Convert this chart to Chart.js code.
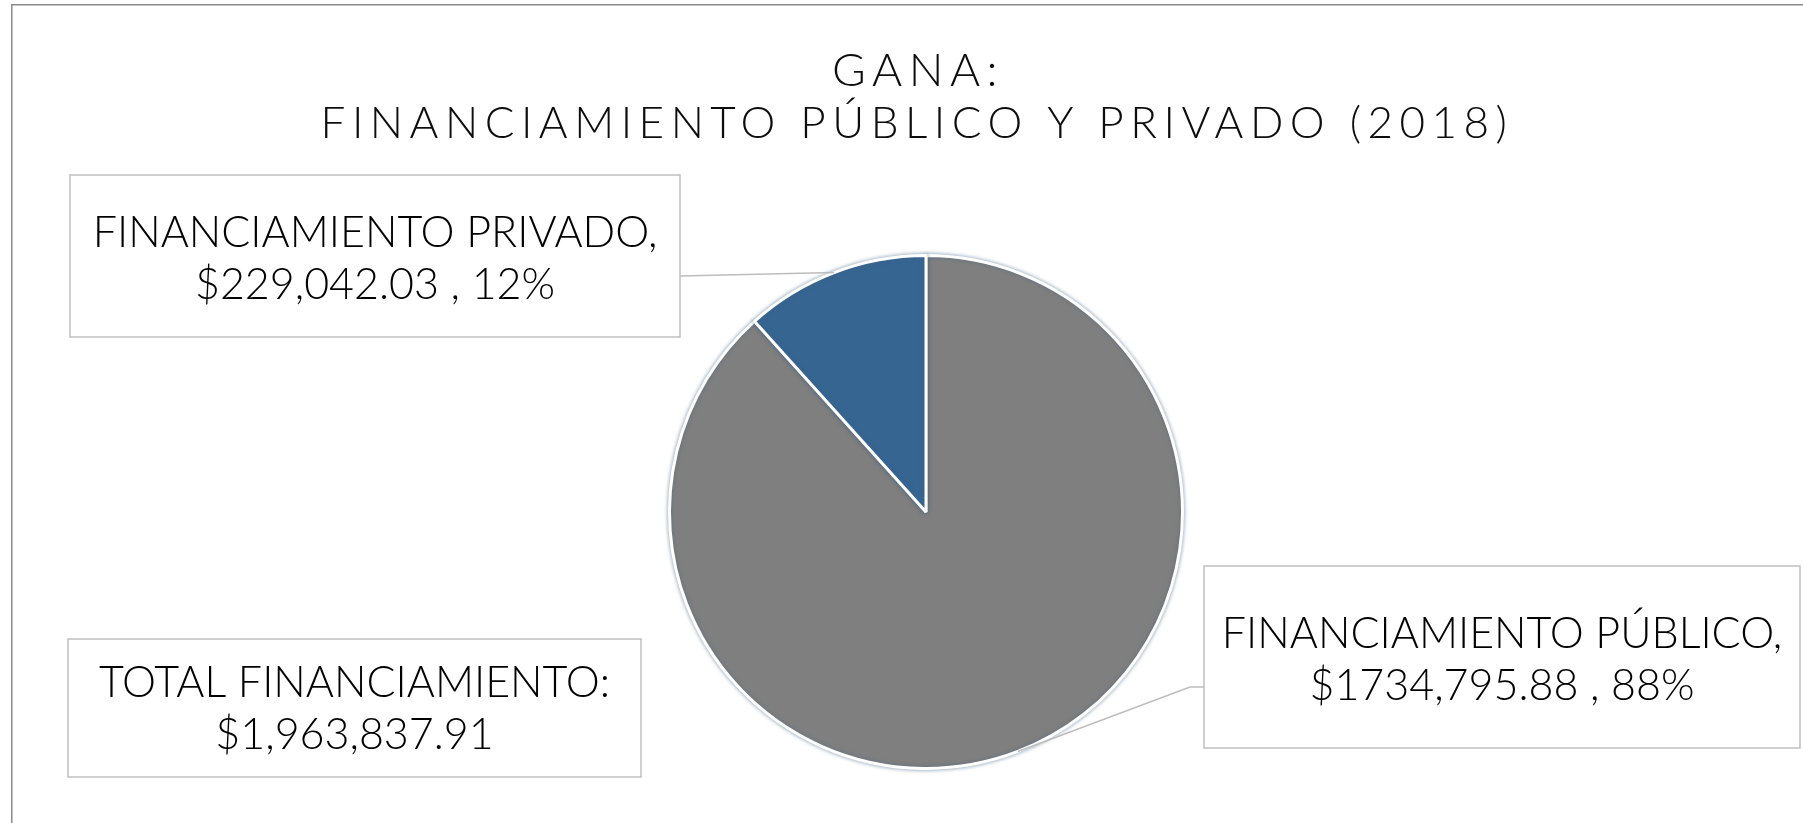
<!DOCTYPE html>
<html>
<head>
<meta charset="utf-8">
<script src="https://cdn.jsdelivr.net/npm/chart.js@4"></script>
<style>
    html, body { margin: 0; padding: 0; background: #fff; }
    #wrap { position: relative; width: 1803px; height: 823px; }
</style>
</head>
<body>
<div id="wrap"><canvas id="pieChart" width="1803" height="823"></canvas></div>
<script>
// -----------------------------
// Data
// -----------------------------
const categories = ["FINANCIAMIENTO PÚBLICO", "FINANCIAMIENTO PRIVADO"];
const amounts = [1734795.88, 229042.03];
const amountLabels = ["$1734,795.88", "$229,042.03"];
const titleLines = ["GANA:", "FINANCIAMIENTO PÚBLICO Y PRIVADO (2018)"];
const totalCaption = "TOTAL FINANCIAMIENTO:";
const sliceColors = ["#7f7f7f", "#366591"];

// callout boxes (layout only), same order as categories
const calloutBoxes = [
    { x: 1204, y: 566, w: 596, h: 182, anchorX: 1204, anchorY: 687, elbowX: 1190 },
    { x: 70, y: 175, w: 610, h: 162, anchorX: 680, anchorY: 276, elbowX: null },
];
const totalBox = { x: 68, y: 639, w: 573, h: 138 };

const FONT = "Lato, 'Open Sans', sans-serif";

function formatTotal(v) {
    return "$" + v.toLocaleString("en-US", { minimumFractionDigits: 2, maximumFractionDigits: 2 });
}

// draw one line, cap-centred on cy
function drawLine(ctx, text, cx, cy, size, weight) {
    ctx.font = `${weight} ${size}px ${FONT}`;
    ctx.textAlign = "center";
    ctx.textBaseline = "alphabetic";
    ctx.fillText(text, cx, cy + size * 0.358);
}

function drawLines(ctx, lines, cx, cy, size, gap, weight) {
    const first = cy - (gap * (lines.length - 1)) / 2;
    lines.forEach((t, i) => drawLine(ctx, t, cx, first + i * gap, size, weight));
}

const glowPlugin = {
    id: "glow",
    beforeDatasetsDraw(chart) {
        const ctx = chart.ctx;
        ctx.save();
        ctx.shadowColor = "rgba(60,95,130,0.55)";
        ctx.shadowBlur = 4;
    },
    afterDatasetsDraw(chart) {
        chart.ctx.restore();
    },
};

const calloutPlugin = {
    id: "callouts",
    afterDraw(chart) {
        const ctx = chart.ctx;
        const total = amounts.reduce((a, b) => a + b, 0);
        ctx.save();

        // outer frame (partly visible)
        ctx.strokeStyle = "#8c8c8c";
        ctx.lineWidth = 1.5;
        ctx.beginPath();
        ctx.moveTo(11.8, chart.height);
        ctx.lineTo(11.8, 4.7);
        ctx.lineTo(chart.width, 4.7);
        ctx.stroke();

        // title
        ctx.fillStyle = "#0d0d0d";
        ctx.letterSpacing = "6.5px";
        drawLine(ctx, titleLines[0], 918, 70, 46, 300);
        drawLine(ctx, titleLines[1], 917, 122, 44, 300);
        ctx.letterSpacing = "0px";

        // leader lines
        const meta = chart.getDatasetMeta(0);
        ctx.strokeStyle = "#bdbdbd";
        ctx.lineWidth = 1.5;
        meta.data.forEach((arc, i) => {
            const p = arc.getProps(["x", "y", "startAngle", "endAngle", "outerRadius"], true);
            const mid = (p.startAngle + p.endAngle) / 2;
            const px = p.x + Math.cos(mid) * p.outerRadius;
            const py = p.y + Math.sin(mid) * p.outerRadius;
            const b = calloutBoxes[i];
            ctx.beginPath();
            ctx.moveTo(b.anchorX, b.anchorY);
            if (b.elbowX !== null) ctx.lineTo(b.elbowX, b.anchorY);
            ctx.lineTo(px, py);
            ctx.stroke();
        });

        // boxes
        ctx.strokeStyle = "#c0c0c0";
        ctx.lineWidth = 1.5;
        [...calloutBoxes, totalBox].forEach((b) => {
            ctx.fillStyle = "#fff";
            ctx.fillRect(b.x, b.y, b.w, b.h);
            ctx.strokeRect(b.x, b.y, b.w, b.h);
        });

        // labels
        ctx.fillStyle = "#000";
        categories.forEach((c, i) => {
            const b = calloutBoxes[i];
            const pct = Math.round((amounts[i] / total) * 100);
            drawLines(ctx, [c + ",", `${amountLabels[i]} , ${pct}%`],
                b.x + b.w / 2, b.y + b.h / 2 + 2, 43, 52, 300);
        });
        drawLines(ctx, [totalCaption, formatTotal(total)],
            totalBox.x + totalBox.w / 2, totalBox.y + totalBox.h / 2, 43, 52, 300);

        ctx.restore();
    },
};

document.addEventListener("DOMContentLoaded", () => {
    const canvas = document.getElementById("pieChart");
    new Chart(canvas, {
        type: "pie",
        data: {
            labels: categories,
            datasets: [
                {
                    data: amounts,
                    backgroundColor: sliceColors,
                    borderColor: "#ffffff",
                    borderWidth: 3,
                },
            ],
        },
        options: {
            responsive: false,
            animation: false,
            layout: { padding: { left: 668, right: 619, top: 254, bottom: 53 } },
            plugins: {
                legend: { display: false },
                tooltip: { enabled: false },
                title: { display: false },
            },
        },
        plugins: [glowPlugin, calloutPlugin],
    });
});
</script>
</body>
</html>
